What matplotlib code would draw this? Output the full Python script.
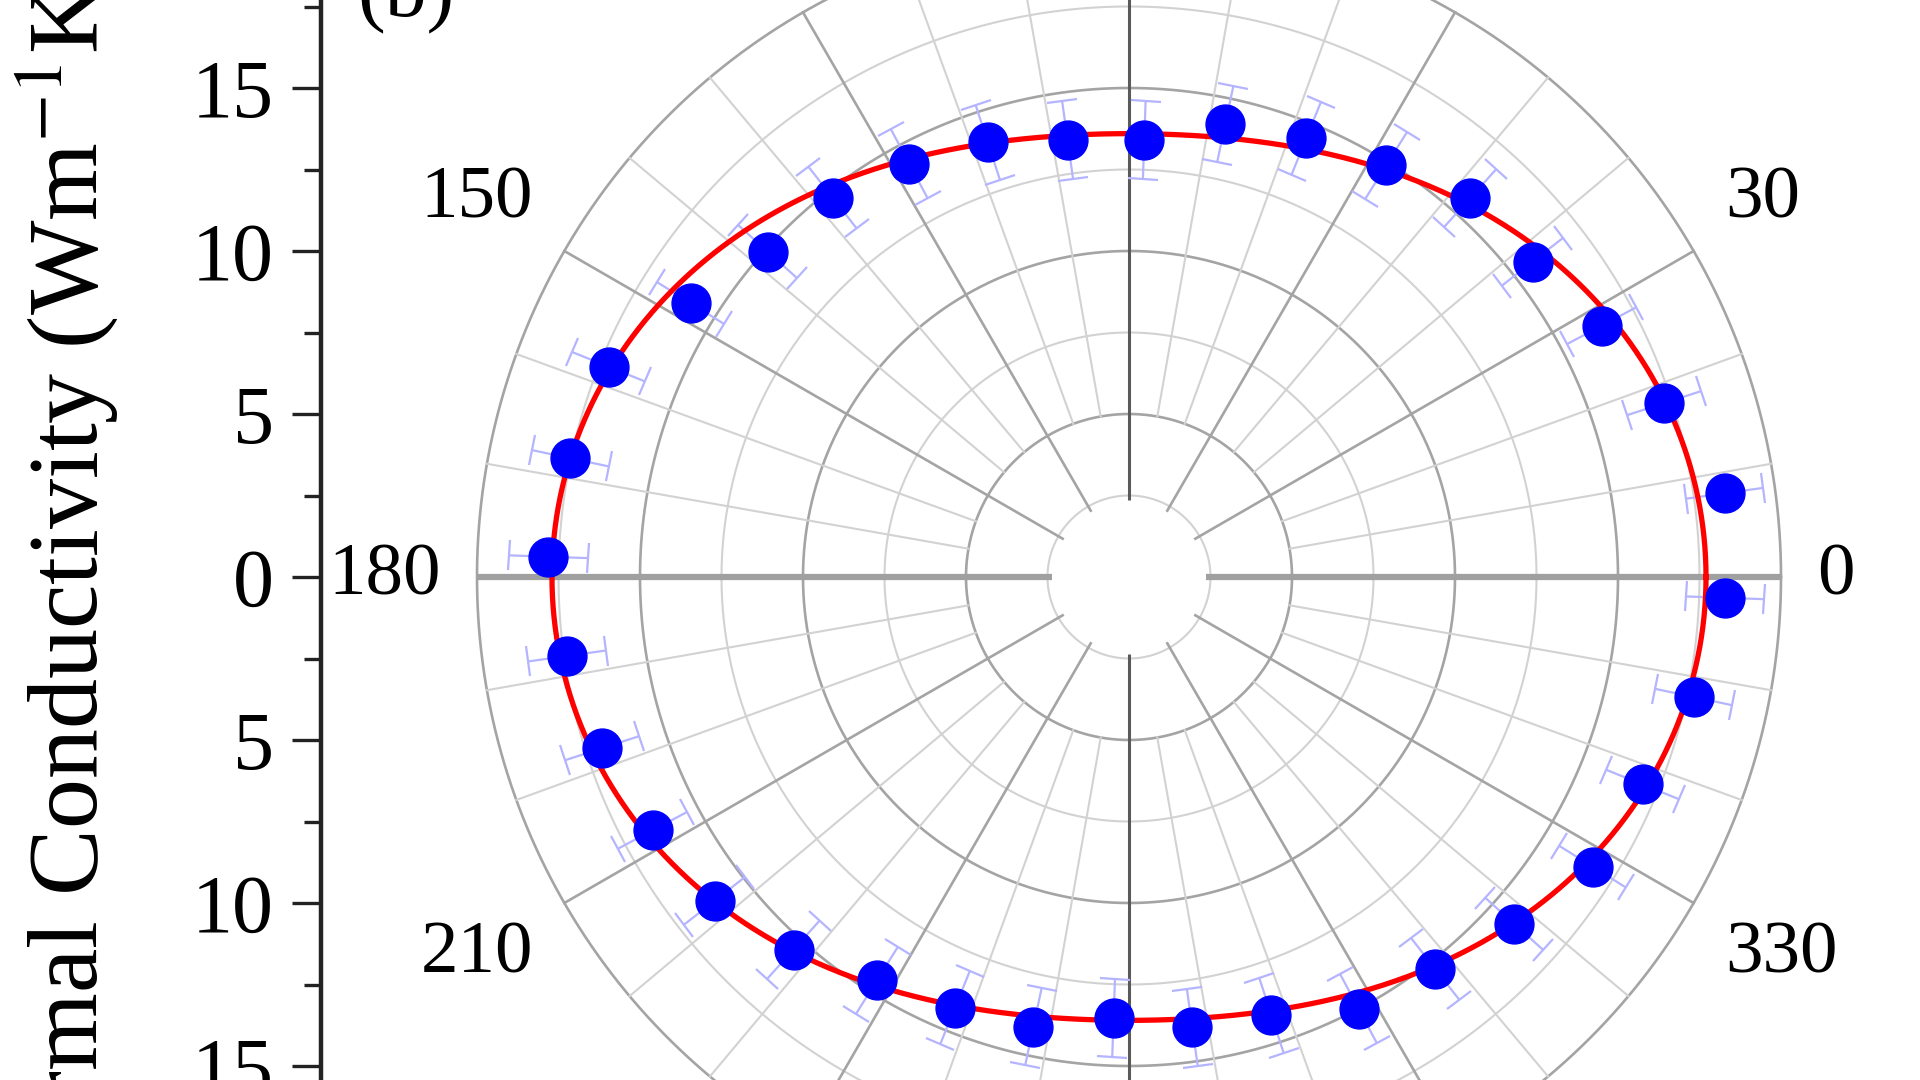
import numpy as np
import matplotlib
matplotlib.use("Agg")
import matplotlib.pyplot as plt

plt.rcParams['font.family'] = ['Liberation Serif', 'DejaVu Serif']
plt.rcParams['mathtext.fontset'] = 'stix'

# ---------------- data ----------------
angles_deg = [-2, 8, 18, 28, 38, 48, 58, 68, 78, 88, 98, 108, 118, 128, 138, 148, 158, 168,
              178, 188, 198, 208, 218, 228, 238, 248, 258, 268, 278, 288, 298, 308, 318, 328, 338, 348]
kappa = [18.29, 18.45, 17.26, 16.43, 15.71, 15.64, 14.89, 14.51, 14.21, 13.42, 13.53, 14.02,
         14.36, 14.77, 14.92, 15.86, 17.22, 17.52, 17.82, 17.41, 16.99, 16.54, 16.13, 15.38,
         14.59, 14.25, 14.10, 13.53, 13.95, 14.14, 15.00, 15.26, 15.90, 16.77, 16.99, 17.71]
kappa_err = [1.2] * 36
# fit: kappa(theta) = kx cos^2 + ky sin^2
kx_fit, ky_fit = 17.7, 13.6

r_ticks = [-15, -10, -5, 0, 5, 10, 15]
angle_labels = ["0", "30", "150", "180", "210", "330"]
angle_label_pos = [0, 30, 150, 180, 210, 330]
panel_label = "(b)"
ylabel = "Thermal Conductivity (Wm$^{-1}$K$^{-1}$)"

# ---------------- layout ----------------
W, H = 1920, 1080
cx, cy, Rpx = 1129, 577, 652
RMAX = 20.0
ppu = Rpx / RMAX
hole = 2.35

fig = plt.figure(figsize=(W / 100, H / 100), dpi=100)
fig.patch.set_facecolor('white')

# left linear axis
axl = fig.add_axes([321 / W, 0, 0.0005, 1])
axl.set_facecolor('none')
for s in ['right', 'top', 'bottom']:
    axl.spines[s].set_visible(False)
axl.spines['left'].set_linewidth(3.2)
axl.spines['left'].set_color('#222222')
axl.set_xticks([])
axl.set_yticks(r_ticks)
axl.set_yticklabels([str(abs(t)) for t in r_ticks])
axl.set_yticks(np.arange(-17.5, 17.6, 2.5), minor=True)
axl.set_ylim(-(H - cy) / ppu, cy / ppu)
axl.tick_params(axis='y', which='major', length=21, width=2.4, direction='out',
                labelsize=59, pad=13, color='#222222')
axl.tick_params(axis='y', which='minor', length=12, width=2.4, direction='out', color='#222222')

fig.text(67 / W, 1 - 560 / H, ylabel, rotation=90, ha='center', va='center', fontsize=72)
fig.text(357 / W, 1 - 34 / H, panel_label, ha='left', va='bottom', fontsize=60)

# polar axes
ax = fig.add_axes([(cx - Rpx) / W, (H - cy - Rpx) / H, 2 * Rpx / W, 2 * Rpx / H],
                  projection='polar')
ax.set_ylim(0, RMAX)
ax.grid(False)
ax.set_xticks([])
ax.set_yticks([])
ax.spines['polar'].set_visible(False)
ax.patch.set_alpha(0)

tt = np.linspace(0, 2 * np.pi, 721)
# rings
for rr in np.arange(2.5, 20.01, 2.5):
    major = abs(rr % 5) < 1e-6
    ax.plot(tt, np.full_like(tt, rr), color='#a4a4a4' if major else '#d2d2d2',
            lw=1.9 if major else 1.5, zorder=1, clip_on=False)
# spokes
for a in range(0, 360, 10):
    if a % 90 == 0:
        continue
    th = np.deg2rad(a)
    major = a % 30 == 0
    ax.plot([th, th], [hole if major else 5.0, RMAX], color='#a4a4a4' if major else '#d2d2d2',
            lw=1.9 if major else 1.5, zorder=1, clip_on=False)
# axes lines
for a in (0, 180):
    th = np.deg2rad(a)
    ax.plot([th, th], [hole, RMAX], color='#a0a0a0', lw=4.5, zorder=2,
            solid_capstyle='butt', clip_on=False)
for a in (90, 270):
    th = np.deg2rad(a)
    ax.plot([th, th], [hole, RMAX], color='#5a5a5a', lw=2.2, zorder=2,
            solid_capstyle='butt', clip_on=False)

# fit curve
ax.plot(tt, kx_fit * np.cos(tt) ** 2 + ky_fit * np.sin(tt) ** 2, color='red', lw=3.8, zorder=4)

# data with radial error bars
th_d = np.deg2rad(angles_deg)
ax.errorbar(th_d, kappa, yerr=kappa_err, fmt='none', ecolor='#b4b4ff', elinewidth=1.6,
            capsize=11, capthick=1.6, zorder=3)
ax.plot(th_d, kappa, 'o', color='#0000ff', markersize=28, zorder=5)

# angle labels
align = {0: ('left', 'center'), 30: ('left', 'bottom'), 150: ('right', 'bottom'),
         180: ('right', 'center'), 210: ('right', 'top'), 330: ('left', 'top')}
for lab, a in zip(angle_labels, angle_label_pos):
    ha, va = align[a]
    ax.text(np.deg2rad(a), 21.1, lab, ha=ha, va=va, fontsize=54, clip_on=False)

fig.savefig('out.png', dpi=100)
